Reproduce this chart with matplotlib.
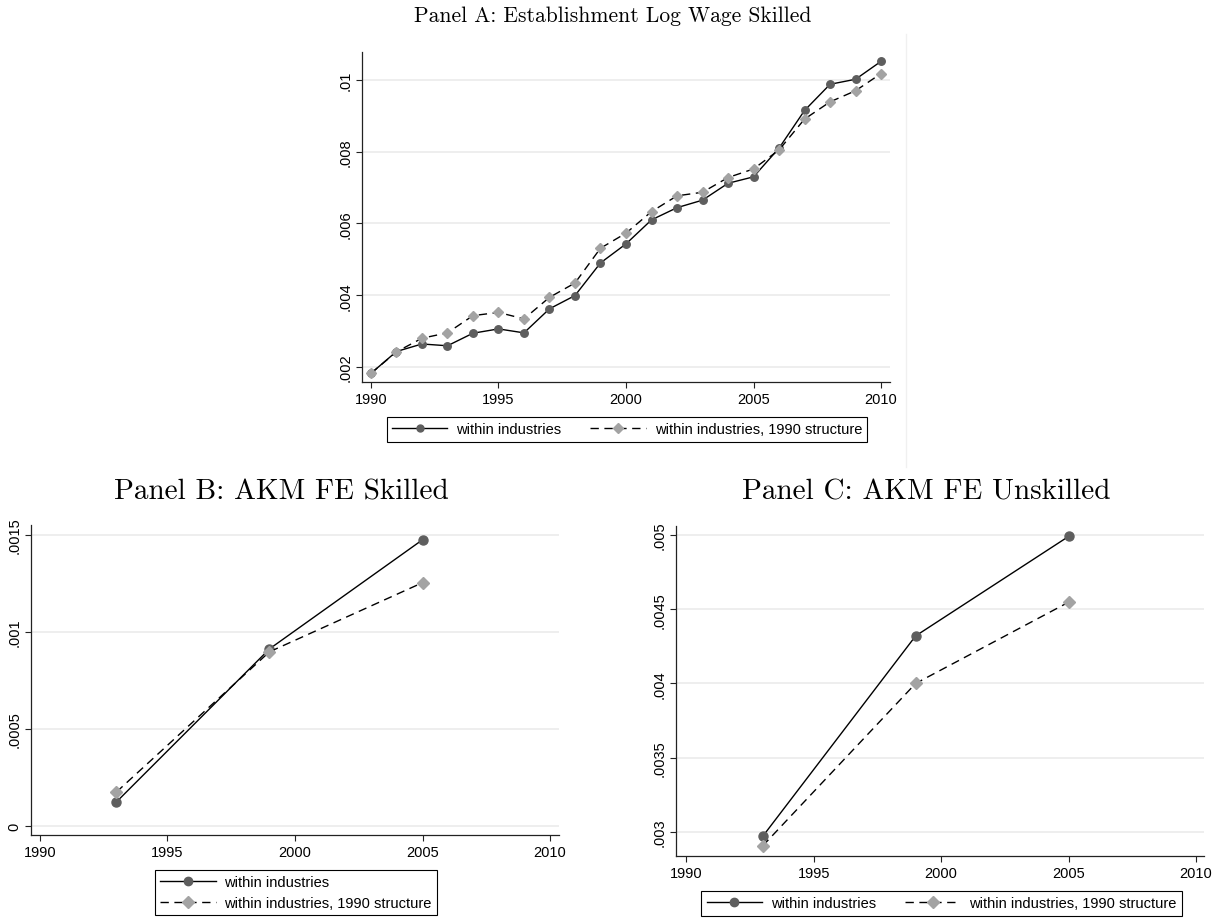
import matplotlib
matplotlib.use("Agg")
import matplotlib.pyplot as plt
from matplotlib.lines import Line2D

# Panel A: establishment log wage, skilled (yearly)
years_a = list(range(1990, 2011))
within_a = [0.00182, 0.00243, 0.00264, 0.00259, 0.00294, 0.00306, 0.00295, 0.00362,
            0.00399, 0.00490, 0.00543, 0.00610, 0.00644, 0.00665, 0.00712, 0.00730,
            0.00810, 0.00915, 0.00988, 0.01002, 0.01052]
struct_a = [0.00182, 0.00242, 0.00280, 0.00295, 0.00343, 0.00352, 0.00334, 0.00394,
            0.00434, 0.00531, 0.00573, 0.00633, 0.00677, 0.00687, 0.00728, 0.00752,
            0.00805, 0.00891, 0.00939, 0.00970, 0.01018]

# Panel B / C: AKM firm effects (three periods)
years_bc = [1993, 1999, 2005]
within_b = [0.000124, 0.000912, 0.001474]
struct_b = [0.000175, 0.000897, 0.001253]
within_c = [0.00297, 0.00432, 0.00499]
struct_c = [0.002906, 0.00400, 0.004547]

xticks = [1990, 1995, 2000, 2005, 2010]
yticks_a = [0.002, 0.004, 0.006, 0.008, 0.01]
ylabels_a = [".002", ".004", ".006", ".008", ".01"]
yticks_b = [0, 0.0005, 0.001, 0.0015]
ylabels_b = ["0", ".0005", ".001", ".0015"]
yticks_c = [0.003, 0.0035, 0.004, 0.0045, 0.005]
ylabels_c = [".003", ".0035", ".004", ".0045", ".005"]

titles = ["Panel A: Establishment Log Wage Skilled",
          "Panel B: AKM FE Skilled",
          "Panel C: AKM FE Unskilled"]
labels = ["within industries", "within industries, 1990 structure"]

plt.rcParams['font.family'] = ['Liberation Sans', 'DejaVu Sans']

DARK = '#5e5e5e'
LIGHT = '#a3a3a3'
DASH = (0, (6, 4))


def style_axis(ax, yticks, ylabels, ylim, xlim):
    ax.set_xlim(xlim)
    ax.set_ylim(ylim)
    ax.set_xticks(xticks)
    ax.set_xticklabels([str(t) for t in xticks])
    ax.set_yticks(yticks)
    ax.set_yticklabels(ylabels, rotation=90, va='center')
    for s in ['top', 'right']:
        ax.spines[s].set_visible(False)
    for s in ['left', 'bottom']:
        ax.spines[s].set_color('#222222')
        ax.spines[s].set_linewidth(0.9)
    ax.tick_params(direction='out', length=4, width=0.8, color='#222222',
                   labelsize=10.5, pad=3)
    ax.grid(axis='y', color='#e9e9e9', linewidth=1.1)
    ax.set_axisbelow(True)


def draw(ax, years, w, s, ms_c, ms_d):
    ax.plot(years, w, color='black', lw=1.0, marker='o', ms=ms_c,
            mfc=DARK, mec=DARK, zorder=3)
    ax.plot(years, s, color='black', lw=1.0, ls=DASH, marker='D', ms=ms_d,
            mfc=LIGHT, mec=LIGHT, zorder=3)


def add_legend(fig, ax, cx, cy, ncol, ms_c, ms_d, lsp=0.35):
    h1 = Line2D([], [], color='black', lw=1.0, marker='o', ms=ms_c, mfc=DARK, mec=DARK)
    h2 = Line2D([], [], color='black', lw=1.0, ls=DASH, marker='D', ms=ms_d, mfc=LIGHT, mec=LIGHT)
    leg = ax.legend([h1, h2], labels, loc='center', bbox_to_anchor=(cx, cy),
                    bbox_transform=fig.transFigure, ncol=ncol, fancybox=False,
                    edgecolor='black', framealpha=1, fontsize=10.5,
                    handlelength=3.8, handletextpad=0.6, columnspacing=2.0,
                    borderpad=0.35, labelspacing=lsp)
    leg.get_frame().set_linewidth(0.8)


fig = plt.figure(figsize=(12.25, 9.2), dpi=100)

# panel A
ax_a = fig.add_axes([362 / 1225, 1 - 383 / 920, 528 / 1225, 330 / 920])
draw(ax_a, years_a, within_a, struct_a, 5.4, 5.4)
style_axis(ax_a, yticks_a, ylabels_a, (0.00158, 0.01078), (1989.65, 2010.35))
add_legend(fig, ax_a, 627 / 1225, 1 - 430.5 / 920, 2, 5, 5)

# panel B
ax_b = fig.add_axes([31 / 1225, 1 - 836 / 920, 528 / 1225, 310 / 920])
draw(ax_b, years_bc, within_b, struct_b, 6.5, 6.5)
style_axis(ax_b, yticks_b, ylabels_b, (-0.0000464, 0.00155), (1989.65, 2010.35))
add_legend(fig, ax_b, 296 / 1225, 1 - 893.5 / 920, 1, 6, 6, lsp=0.5)

# panel C
ax_c = fig.add_axes([676 / 1225, 1 - 857 / 920, 528 / 1225, 330 / 920])
draw(ax_c, years_bc, within_c, struct_c, 6.5, 6.5)
style_axis(ax_c, yticks_c, ylabels_c, (0.002838, 0.00506), (1989.6, 2010.31))
add_legend(fig, ax_c, 941.5 / 1225, 1 - 904.5 / 920, 2, 6, 6)

# titles
fig.text(613 / 1225, 1 - 16 / 920, titles[0], family='cmr10', fontsize=15.5,
         ha='center', va='center')
fig.text(281 / 1225, 1 - 492 / 920, titles[1], family='cmr10', fontsize=21,
         ha='center', va='center')
fig.text(926 / 1225, 1 - 492 / 920, titles[2], family='cmr10', fontsize=21,
         ha='center', va='center')

# faint border of the top graph region
fig.add_artist(Line2D([906 / 1225, 906 / 1225], [1 - 35 / 920, 1 - 468 / 920],
                      color='#f0f0f0', lw=1, transform=fig.transFigure))

fig.savefig("out.png", dpi=100)
